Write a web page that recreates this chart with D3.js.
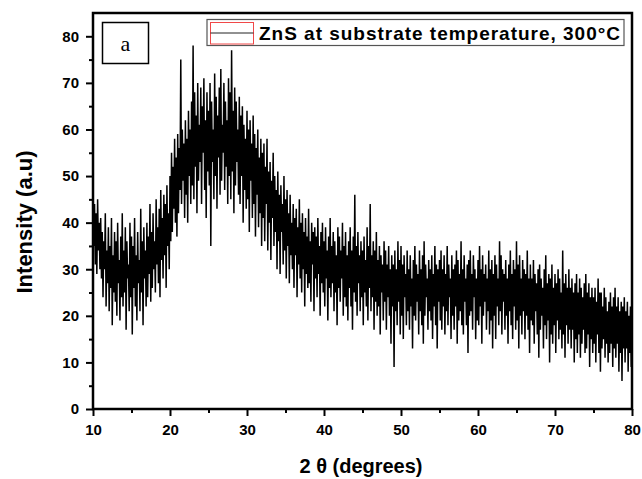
<!DOCTYPE html>
<html><head><meta charset="utf-8">
<script src="https://cdn.jsdelivr.net/npm/d3@7"></script>
<style>body{margin:0;background:#fff}svg{display:block}</style>
</head><body>
<svg id="c" width="642" height="479"></svg>
<script>
// ---- data ----
const twoThetaStart = 10;   // degrees
const twoThetaStep = 0.1;   // sampling step of the scan
const intensity = [
50,35,44,31,42,29,45,34,40,30,
41,28,38,24,36,30,42,22,34,27,
39,21,35,26,41,18,33,25,38,23,
36,20,40,27,32,19,37,24,42,22,
34,25,39,17,36,28,31,21,40,24,
37,16,35,26,41,22,33,19,38,27,
32,21,43,25,36,18,39,28,34,22,
40,24,37,29,44,23,38,26,42,30,
36,25,45,31,39,27,43,24,47,32,
41,28,46,33,44,26,48,35,42,30,
50,36,55,38,52,43,58,40,54,37,
59,42,56,47,75,44,60,49,57,41,
62,46,58,40,64,50,60,44,66,48,
78,45,68,52,63,42,70,49,61,53,
69,44,65,55,71,47,62,41,68,51,
64,48,70,35,66,53,60,45,72,50,
67,43,63,54,69,46,73,49,61,55,
70,47,66,52,62,44,71,50,68,45,
77,51,64,42,69,48,66,53,60,46,
67,44,63,50,65,40,61,47,58,43,
64,45,60,38,62,49,57,41,63,44,
59,37,56,46,60,39,54,42,58,35,
55,41,57,36,52,44,58,34,51,40,
53,32,49,41,55,35,50,38,47,30,
51,36,46,29,48,38,44,31,50,34,
45,28,47,35,42,27,46,33,40,30,
44,26,41,33,43,24,39,31,45,28,
40,25,42,30,38,22,41,29,37,26,
43,27,36,23,40,31,38,21,39,28,
37,24,41,29,35,20,38,27,40,25,
36,22,39,28,34,19,37,26,41,24,
35,27,38,21,36,25,33,18,39,26,
37,23,34,28,40,20,35,24,38,22,
33,19,36,26,39,22,34,17,37,25,
46,23,35,20,38,27,33,21,36,24,
34,18,37,25,32,22,39,19,35,26,
44,21,33,24,36,17,34,23,38,20,
32,22,35,16,33,25,31,19,36,23,
34,17,31,24,35,20,30,14,33,22,
31,9,34,21,30,18,36,23,32,16,
35,20,31,15,33,24,29,18,34,21,
30,17,33,22,28,13,32,20,35,19,
31,23,29,16,34,21,30,18,33,14,
36,20,31,24,28,17,32,21,30,19,
33,15,29,22,35,18,31,13,30,23,
32,19,34,17,30,22,33,16,29,21,
35,18,31,24,28,15,33,20,30,17,
31,22,34,14,32,19,29,21,36,18,
30,16,33,23,28,18,31,12,32,20,
34,21,29,17,33,24,30,15,28,19,
32,18,35,22,30,14,33,20,29,23,
31,17,28,21,34,16,30,19,32,13,
29,20,33,15,31,22,28,18,36,21,
33,16,30,23,29,17,32,20,28,14,
31,21,34,18,29,15,32,22,30,17,
36,19,31,13,33,20,28,16,32,21,
30,15,29,20,34,17,28,12,31,19,
28,18,32,14,29,21,27,16,30,11,
31,17,28,20,26,13,30,18,33,15,
27,19,29,10,28,16,31,14,26,18,
29,12,27,19,30,15,28,17,25,13,
34,16,27,11,29,18,26,14,30,17,
26,13,28,17,25,10,27,15,29,12,
25,16,28,11,26,14,24,17,27,12,
29,13,25,16,27,9,24,15,26,12,
24,14,26,10,23,16,28,12,25,8,
25,13,22,15,26,11,24,14,21,10,
23,12,25,14,22,9,24,13,26,11,
22,14,24,8,21,12,23,6,22,13,
24,10,21,13,23,8,20,12,22,9,
18
];
const xTicks = [10,20,30,40,50,60,70,80];
const xMinorTicks = [15,25,35,45,55,65,75];
const yTicks = [0,10,20,30,40,50,60,70,80];
const yMinorTicks = [5,15,25,35,45,55,65,75];
const xTitle = "2 \u03b8 (degrees)";
const yTitle = "Intensity (a.u)";
const legendLabel = "ZnS at substrate temperature, 300\u00b0C";
const panelLabel = "a";

// ---- layout ----
const L = 93, R = 632, T = 13, B = 409;
const svg = d3.select("#c");
const x = d3.scaleLinear().domain([10, 80]).range([L, R]);
const y = d3.scaleLinear().domain([0, 85]).range([B, T]);

const pts = intensity.map((v, i) => [twoThetaStart + i * twoThetaStep, v]);

svg.append("clipPath").attr("id", "clip")
  .append("rect").attr("x", L).attr("y", T).attr("width", R - L).attr("height", B - T);

svg.append("path")
  .datum(pts)
  .attr("clip-path", "url(#clip)")
  .attr("fill", "none")
  .attr("stroke", "#000")
  .attr("stroke-width", 1.5)
  .attr("stroke-linejoin", "miter")
  .attr("d", d3.line().x(d => x(d[0])).y(d => y(d[1])));

// axes
const fontTick = "bold 15px 'Liberation Sans', Arial, sans-serif";
const xAxis = svg.append("g").attr("transform", `translate(0,${B})`)
  .call(d3.axisBottom(x).tickValues(xTicks).tickFormat(d3.format("d")).tickSize(7).tickSizeOuter(0));
const xAxisMinor = svg.append("g").attr("transform", `translate(0,${B})`)
  .call(d3.axisBottom(x).tickValues(xMinorTicks).tickFormat("").tickSize(4).tickSizeOuter(0));
const yAxis = svg.append("g").attr("transform", `translate(${L},0)`)
  .call(d3.axisLeft(y).tickValues(yTicks).tickFormat(d3.format("d")).tickSize(7).tickSizeOuter(0));
const yAxisMinor = svg.append("g").attr("transform", `translate(${L},0)`)
  .call(d3.axisLeft(y).tickValues(yMinorTicks).tickFormat("").tickSize(4).tickSizeOuter(0));
[xAxis, xAxisMinor, yAxis, yAxisMinor].forEach(g => {
  g.select(".domain").remove();
  g.selectAll("line").attr("stroke", "#000").attr("stroke-width", 2);
  g.selectAll("text").style("font", fontTick).attr("fill", "#000");
});
xAxis.selectAll("text").attr("dy", "0.95em").attr("y", 12);
yAxis.selectAll("text").attr("x", -14);

// frame
svg.append("rect").attr("x", L).attr("y", T).attr("width", R - L).attr("height", B - T)
  .attr("fill", "none").attr("stroke", "#000").attr("stroke-width", 2.5);

// titles
svg.append("text").attr("x", 361).attr("y", 473).attr("text-anchor", "middle")
  .style("font", "bold 20px 'Liberation Sans', Arial, sans-serif").text(xTitle);
svg.append("text").attr("transform", "translate(32,222) rotate(-90)").attr("text-anchor", "middle")
  .style("font", "bold 22px 'Liberation Sans', Arial, sans-serif").text(yTitle);

// panel label
svg.append("rect").attr("x", 102.5).attr("y", 22.5).attr("width", 46).attr("height", 41)
  .attr("fill", "#fff").attr("stroke", "#000").attr("stroke-width", 1.5);
svg.append("text").attr("x", 125.5).attr("y", 51).attr("text-anchor", "middle")
  .style("font", "22px 'Liberation Serif', 'Times New Roman', serif").text(panelLabel);

// legend
svg.append("rect").attr("x", 207).attr("y", 19.5).attr("width", 417).attr("height", 26)
  .attr("fill", "#fff").attr("stroke", "#555").attr("stroke-width", 1.2);
svg.append("rect").attr("x", 210.5).attr("y", 22.5).attr("width", 43).attr("height", 21.5)
  .attr("fill", "none").attr("stroke", "#f04848").attr("stroke-width", 1);
svg.append("line").attr("x1", 210.5).attr("x2", 253.5).attr("y1", 33).attr("y2", 33)
  .attr("stroke", "#222").attr("stroke-width", 1);
svg.append("text").attr("x", 259).attr("y", 39.5)
  .attr("textLength", 361).attr("lengthAdjust", "spacing")
  .style("font", "bold 19px 'Liberation Sans', Arial, sans-serif").text(legendLabel);
</script>
</body></html>
